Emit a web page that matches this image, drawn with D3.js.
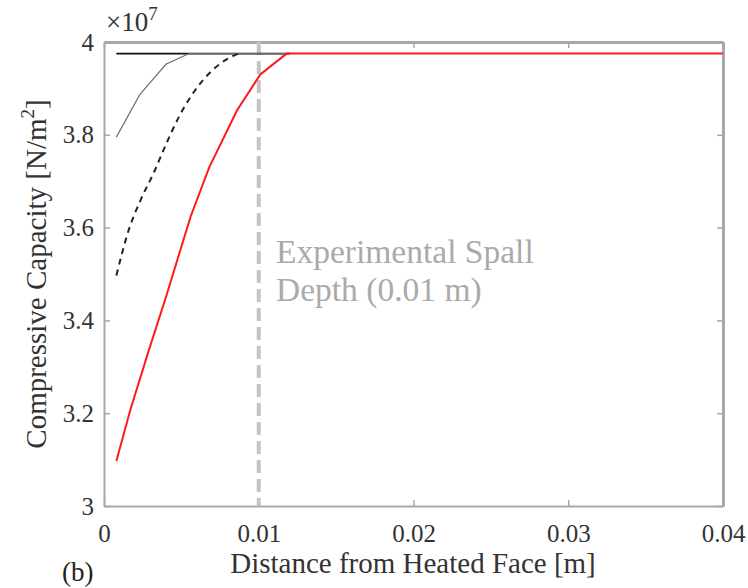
<!DOCTYPE html>
<html>
<head>
<meta charset="utf-8">
<script src="https://cdn.jsdelivr.net/npm/d3@7"></script>
<style>
  body { margin: 0; background: #fff; }
</style>
</head>
<body>
<svg id="chart" width="748" height="588" font-family="'Times New Roman', 'Liberation Serif', 'DejaVu Serif', serif"></svg>
<script>
// tick values
var xTicks = [0, 0.01, 0.02, 0.03, 0.04];
var yTicks = [3, 3.2, 3.4, 3.6, 3.8, 4];

// series (values in 1e7 N/m^2)
var blackX = [0.0008, 0.012];
var blackY = [3.975, 3.975];

var grayX = [0.0008, 0.0023, 0.004, 0.0055, 0.012];
var grayY = [3.795, 3.886, 3.952, 3.975, 3.975];

var dashX = [0.0008, 0.0016, 0.0024, 0.0032, 0.004, 0.0048, 0.0056, 0.0064, 0.0072, 0.008, 0.0087];
var dashY = [3.497, 3.595, 3.662, 3.717, 3.779, 3.836, 3.882, 3.918, 3.945, 3.964, 3.975];

var redX = [0.0008, 0.0017, 0.0029, 0.004, 0.0056, 0.0068, 0.0086, 0.0101, 0.0118, 0.04];
var redY = [3.097, 3.207, 3.336, 3.45, 3.624, 3.73, 3.853, 3.93, 3.975, 3.975];

var spallX = 0.01;

var svg = d3.select("#chart");
var mLeft = 104, mRight = 723, mTop = 42, mBottom = 506;

var x = d3.scaleLinear().domain([0, 0.04]).range([mLeft, mRight]);
var y = d3.scaleLinear().domain([3, 4]).range([mBottom, mTop]);

function pts(xs, ys) {
  return xs.map(function (v, i) { return [v, ys[i]]; });
}
var line = d3.line().x(function (d) { return x(d[0]); }).y(function (d) { return y(d[1]); });

var axisColor = "#a8a8a8";

function styleAxis(g, w) {
  g.attr("font-family", null).attr("font-size", null);
  g.select(".domain").attr("stroke", axisColor).attr("stroke-width", w);
  g.selectAll(".tick line").attr("stroke", axisColor).attr("stroke-width", 1.5);
  g.selectAll("text").attr("fill", "#333").style("font-size", "25px");
}

// axes box with inner ticks
svg.append("g").attr("transform", "translate(0," + mBottom + ")")
  .call(d3.axisBottom(x).tickValues(xTicks).tickSizeInner(-6).tickSizeOuter(0).tickFormat(d3.format("")).tickPadding(18))
  .call(styleAxis, 2);
svg.append("g").attr("transform", "translate(" + mLeft + ",0)")
  .call(d3.axisLeft(y).tickValues(yTicks).tickSizeInner(-6).tickSizeOuter(0).tickFormat(d3.format("")).tickPadding(10))
  .call(styleAxis, 2);
svg.append("g").attr("transform", "translate(0," + mTop + ")")
  .call(d3.axisTop(x).tickValues(xTicks).tickSizeInner(-6).tickSizeOuter(0).tickFormat(""))
  .call(styleAxis, 3);
svg.append("g").attr("transform", "translate(" + mRight + ",0)")
  .call(d3.axisRight(y).tickValues(yTicks).tickSizeInner(-6).tickSizeOuter(0).tickFormat(""))
  .call(styleAxis, 3);

// spall depth marker
svg.append("line")
  .attr("x1", x(spallX)).attr("x2", x(spallX))
  .attr("y1", y(4)).attr("y2", y(3))
  .attr("stroke", "#c4c4c4").attr("stroke-width", 4)
  .attr("stroke-dasharray", "13,6");

// series
svg.append("path").datum(pts(blackX, blackY)).attr("d", line)
  .attr("fill", "none").attr("stroke", "#111").attr("stroke-width", 1.6);
svg.append("path").datum(pts(grayX, grayY)).attr("d", line)
  .attr("fill", "none").attr("stroke", "#6a6a6a").attr("stroke-width", 1.1);
svg.append("path").datum(pts(dashX, dashY)).attr("d", line.curve(d3.curveMonotoneX))
  .attr("fill", "none").attr("stroke", "#222").attr("stroke-width", 2)
  .attr("stroke-dasharray", "6,5");
line.curve(d3.curveLinear);
svg.append("path").datum(pts(redX, redY)).attr("d", line)
  .attr("fill", "none").attr("stroke", "#ff1a1a").attr("stroke-width", 2);

// annotation
var ann = svg.append("text").attr("fill", "#aaaaaa").style("font-size", "33.5px");
ann.append("tspan").attr("x", 276).attr("y", 263).text("Experimental Spall");
ann.append("tspan").attr("x", 276).attr("y", 301).text("Depth (0.01 m)");

// exponent label
var ex = svg.append("text").attr("x", 106).attr("y", 31).attr("fill", "#333").style("font-size", "27px");
ex.append("tspan").text("×10");
ex.append("tspan").attr("dy", -11).style("font-size", "19px").text("7");

// axis titles
svg.append("text").attr("x", 413).attr("y", 573).attr("text-anchor", "middle")
  .attr("fill", "#333").style("font-size", "29px").text("Distance from Heated Face [m]");
var yl = svg.append("text").attr("transform", "translate(46,274) rotate(-90)")
  .attr("text-anchor", "middle").attr("fill", "#333").style("font-size", "29px");
yl.append("tspan").text("Compressive Capacity [N/m");
yl.append("tspan").attr("dy", -12).style("font-size", "19px").text("2");
yl.append("tspan").attr("dy", 12).text("]");

svg.append("text").attr("x", 62).attr("y", 581).attr("fill", "#222").style("font-size", "27px").text("(b)");
</script>
</body>
</html>
